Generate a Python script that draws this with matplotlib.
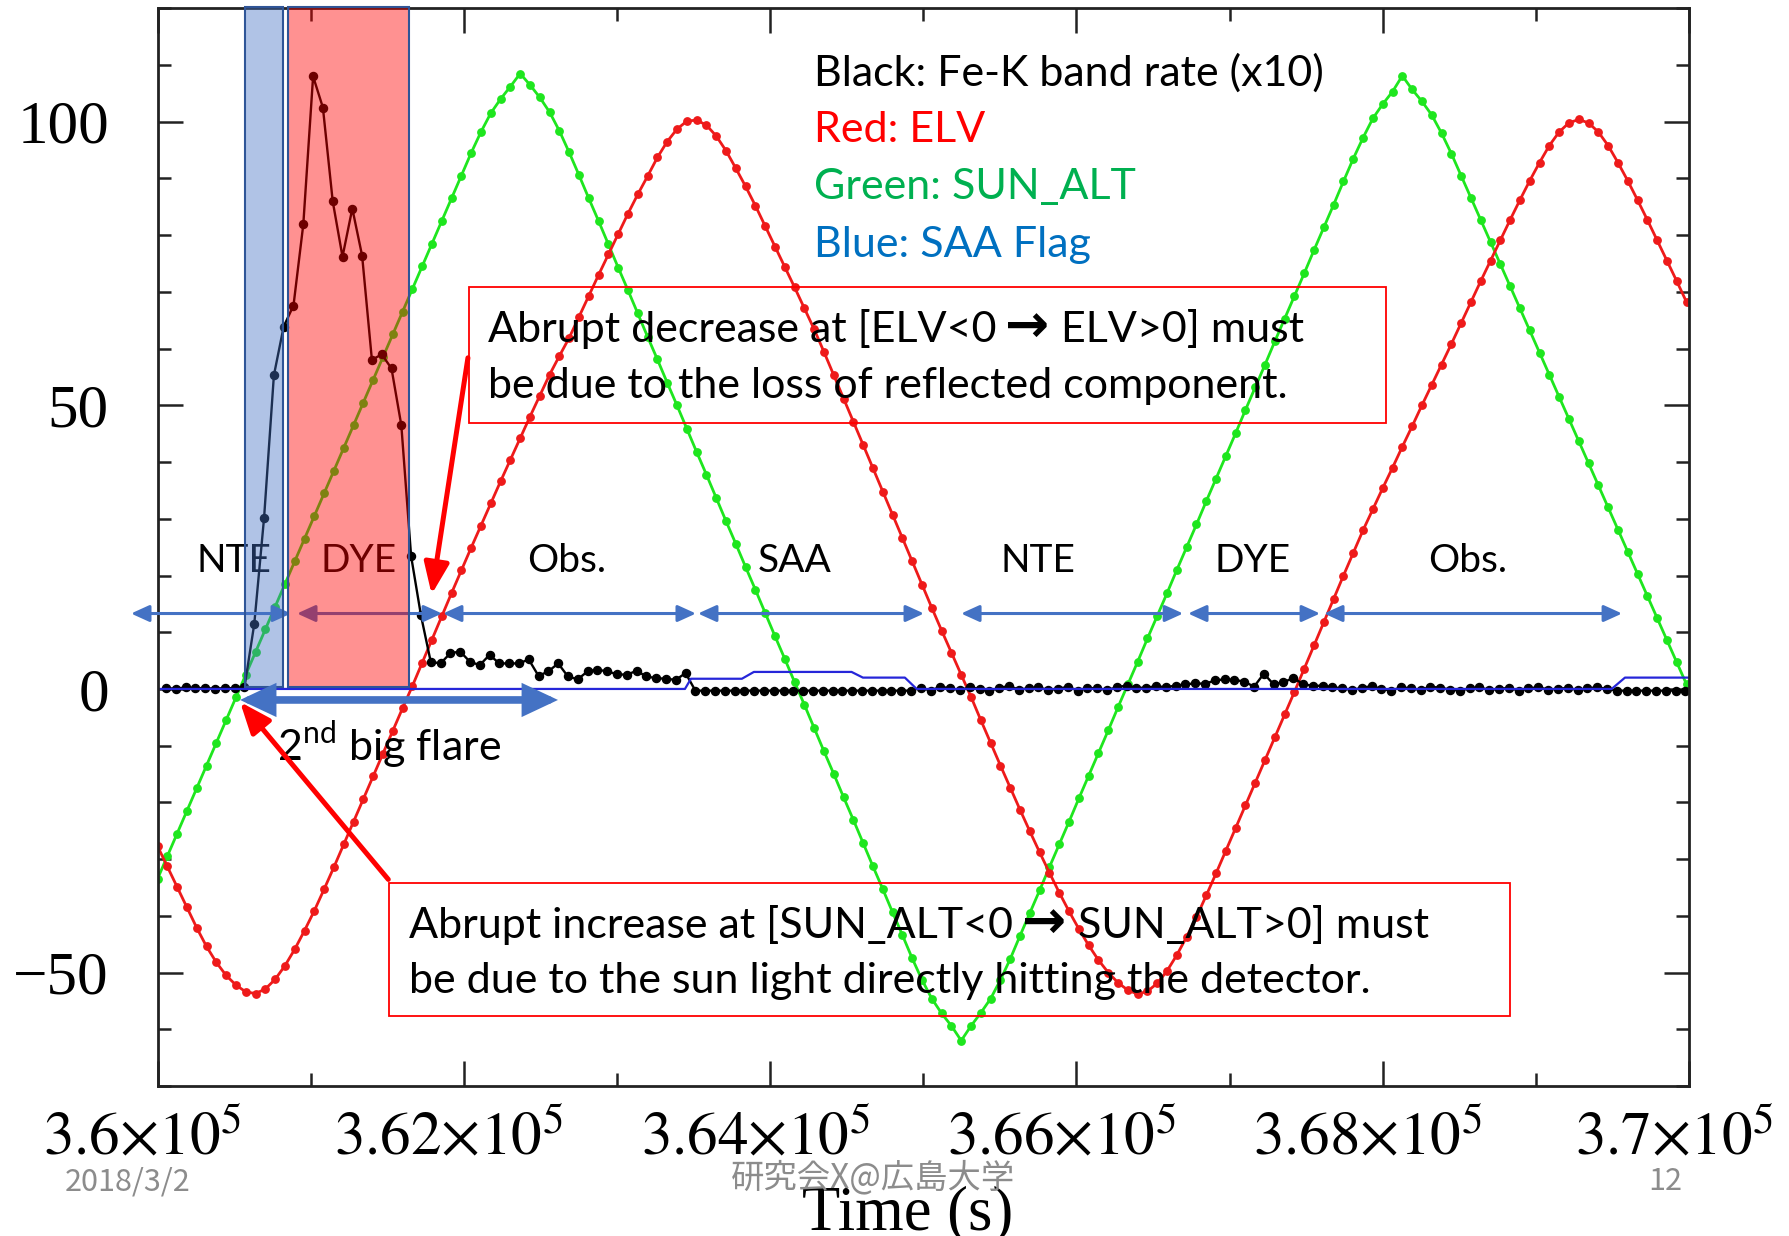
import numpy as np
import matplotlib
matplotlib.use("Agg")
import matplotlib.pyplot as plt
import matplotlib.transforms as mtransforms
from matplotlib.patches import Rectangle
from matplotlib.ticker import MultipleLocator, FixedLocator

# ---- data (time in s, y in plotted units) ----
# SUN_ALT and ELV are sampled every 64 s starting at 3.6e5 s
orbit_t0 = 360000
orbit_dt = 64

sun_alt = [
    -33.5, -29.5, -25.5, -21.5, -17.5, -13.5, -9.5, -5.5, -1.5, 2.5,
    6.5, 10.5, 14.5, 18.5, 22.5, 26.5, 30.5, 34.5, 38.5, 42.5,
    46.5, 50.5, 54.5, 58.5, 62.5, 66.5, 70.5, 74.5, 78.5, 82.5,
    86.5, 90.5, 94.5, 98.2, 101.5, 104.0, 106.2, 108.5, 106.5, 104.3,
    101.7, 98.4, 94.6, 90.6, 86.5, 82.5, 78.4, 74.3, 70.3, 66.2,
    62.1, 58.1, 54.0, 50.0, 45.9, 41.8, 37.8, 33.7, 29.6, 25.6,
    21.5, 17.5, 13.4, 9.3, 5.3, 1.2, -2.8, -6.9, -11.0, -15.0,
    -19.1, -23.1, -27.2, -31.3, -35.3, -39.4, -43.4, -47.5, -51.3, -54.6,
    -57.2, -59.4, -62.0, -59.4, -57.1, -54.6, -51.3, -47.6, -43.5, -39.5,
    -35.5, -31.4, -27.4, -23.4, -19.3, -15.3, -11.3, -7.3, -3.2, 0.8,
    4.8, 8.9, 12.9, 16.9, 21.0, 25.0, 29.0, 33.1, 37.1, 41.1,
    45.1, 49.2, 53.2, 57.2, 61.3, 65.3, 69.3, 73.3, 77.4, 81.4,
    85.4, 89.5, 93.5, 97.2, 100.6, 103.1, 105.3, 108.1, 105.7, 103.6,
    101.2, 98.0, 94.4, 90.5, 86.6, 82.7, 78.8, 74.9, 71.0, 67.1,
    63.2, 59.3, 55.4, 51.5, 47.6, 43.7, 39.8, 35.9, 32.0, 28.1,
    24.2, 20.3, 16.4, 12.5, 8.6, 4.7, 0.8,
]

elv = [
    -27.7, -31.3, -34.9, -38.5, -42.1, -45.4, -48.2, -50.5, -52.2, -53.4,
    -53.7, -52.9, -51.2, -48.8, -45.9, -42.6, -39.1, -35.3, -31.4, -27.4,
    -23.4, -19.4, -15.4, -11.4, -7.4, -3.4, 0.5, 4.6, 8.7, 12.8,
    16.9, 20.9, 24.9, 28.8, 32.7, 36.6, 40.4, 44.2, 48.0, 51.7,
    55.4, 58.7, 61.9, 65.6, 69.3, 73.0, 76.6, 80.2, 83.8, 87.2,
    90.4, 93.7, 96.5, 98.7, 100.1, 100.3, 99.4, 97.5, 94.9, 91.8,
    88.6, 85.2, 81.6, 78.0, 74.4, 70.8, 67.1, 63.4, 59.4, 55.3,
    51.2, 47.1, 43.0, 38.9, 34.8, 30.7, 26.6, 22.5, 18.4, 14.3,
    10.3, 6.4, 2.5, -1.4, -5.5, -9.5, -13.5, -17.4, -21.3, -25.1,
    -28.8, -32.4, -35.9, -39.2, -42.3, -45.2, -47.8, -50.0, -51.8, -53.1,
    -53.8, -53.3, -51.9, -49.7, -46.9, -43.7, -40.2, -36.4, -32.5, -28.5,
    -24.5, -20.5, -16.5, -12.5, -8.5, -4.5, -0.5, 3.6, 7.7, 11.8,
    15.9, 20.0, 24.0, 28.0, 31.7, 35.4, 39.0, 42.7, 46.3, 50.0,
    53.6, 57.2, 60.8, 64.5, 68.2, 71.9, 75.5, 79.1, 82.7, 86.2,
    89.6, 92.8, 95.8, 98.2, 99.8, 100.4, 99.8, 98.2, 95.8, 92.8,
    89.6, 86.2, 82.7, 79.1, 75.5, 71.9, 68.2,
]

# Fe-K band rate (x10), 64 s bins starting at 360056 s
rate_t0 = 360056
rate_dt = 64
fek_rate = [
    0.2, 0.0, 0.3, 0.1, 0.2, 0.0, 0.2, 0.1, 0.3,
    11.5, 30.2, 55.3, 63.9, 67.6, 81.9, 108.0, 102.5, 86.0, 76.2,
    84.7, 76.4, 58.0, 59.0, 56.5, 46.5, 23.4, 13.0, 4.8,
    4.5, 6.3, 6.6, 4.8, 4.2, 6.0, 4.5, 4.5, 4.5, 5.2,
    2.3, 3.1, 4.5, 2.2, 1.7, 3.1, 3.4, 3.1, 2.6, 2.5,
    3.2, 2.2, 1.9, 1.8, 1.6, 2.8,
    -0.3, -0.3, -0.3, -0.3, -0.3, -0.3, -0.3, -0.3, -0.3, -0.3,
    -0.3, -0.3, -0.3, -0.3, -0.3, -0.3, -0.3, -0.3, -0.3, -0.3,
    -0.3, -0.3, -0.3,
    0.2, -0.3, 0.4, 0.1, -0.2, 0.3, 0.0, -0.4, 0.2, 0.5,
    -0.1, 0.1, 0.3, -0.2, 0.0, 0.4, -0.3, 0.2, 0.1, -0.2,
    0.3, 0.6, 0.2,
    0.2, 0.5, 0.3, 0.6, 0.8, 1.0, 0.9, 1.5, 1.7, 1.6,
    1.3, 0.4, 2.7, 0.8, 1.2, 1.9, 0.9, 0.5, 0.6,
    0.3, 0.1, -0.2, 0.2, 0.5, 0.0, -0.3, 0.3, 0.1, -0.2,
    0.4, 0.2, -0.1, -0.3, 0.1, 0.3, -0.2, 0.0, 0.2, -0.3,
    0.1, 0.3, -0.1, 0.0, 0.2, -0.2, 0.1, 0.3, 0.0,
    -0.3, -0.3, -0.3, -0.3, -0.3, -0.3, -0.3, -0.3,
]

# SAA flag (step line)
saa_t = [360000, 363444, 363483, 363816, 363894, 364532, 364606, 364880,
         364957, 369495, 369582, 370000]
saa_flag = [0, 0, 1.8, 1.8, 3.0, 3.0, 2.0, 2.0, 0, 0, 2.0, 2.0]

# observation phases marked with double arrows
phase_names = ['NTE', 'DYE', 'Obs.', 'SAA', 'NTE', 'DYE', 'Obs.']
phase_start = [359827, 360911, 361864, 363529, 365247, 366729, 367617]
phase_end = [360872, 361858, 363516, 365005, 366697, 367591, 369563]
phase_mid = [360500, 361316, 362674, 364163, 365750, 367147, 368557]

xtick_vals = [360000, 362000, 364000, 366000, 368000, 370000]
xtick_text = [r'$3.6{\times}10^{5}$', r'$3.62{\times}10^{5}$', r'$3.64{\times}10^{5}$',
              r'$3.66{\times}10^{5}$', r'$3.68{\times}10^{5}$', r'$3.7{\times}10^{5}$']
ytick_vals = [-50, 0, 50, 100]
ytick_text = ['\u221250', '0', '50', '100']

legend_lines = ['Black: Fe-K band rate (x10)', 'Red: ELV', 'Green: SUN_ALT', 'Blue: SAA Flag']
legend_colors = ['#000000', '#ff0000', '#00b050', '#0070c0']

# ---- style ----
plt.rcParams['font.family'] = ['Lato', 'DejaVu Sans']
plt.rcParams['mathtext.fontset'] = 'custom'
plt.rcParams['mathtext.rm'] = 'Lato'

W, H = 1789, 1236
TXT = 31
fig = plt.figure(figsize=(W / 100, H / 100), dpi=100)
fig.patch.set_facecolor('white')
ax = fig.add_axes([157.5 / W, 1 - 1086 / H, 1531.5 / W, 1077.7 / H])
renderer = fig.canvas.get_renderer()

t_orbit = orbit_t0 + orbit_dt * np.arange(len(sun_alt))
t_rate = rate_t0 + rate_dt * np.arange(len(fek_rate))

ax.plot(t_orbit, sun_alt, '-o', color='#1ee61e', lw=2.0, ms=5.3, zorder=2)
ax.plot(t_orbit, elv, '-o', color='#ee1a1a', lw=2.0, ms=5.3, zorder=2.1)
ax.plot(t_rate, fek_rate, '-o', color='black', lw=1.7, ms=5.8, zorder=2.2)
ax.plot(saa_t, saa_flag, '-', color='#2626d9', lw=1.6, zorder=2.3)

ax.set_xlim(360000, 370000)
ax.set_ylim(-70, 120)

ax.xaxis.set_major_locator(FixedLocator(xtick_vals))
ax.xaxis.set_minor_locator(MultipleLocator(1000))
ax.yaxis.set_major_locator(FixedLocator(ytick_vals))
ax.yaxis.set_minor_locator(MultipleLocator(10))
ax.set_xticklabels(xtick_text, fontsize=44, math_fontfamily='stix')
ax.set_yticklabels(ytick_text, fontsize=44, fontfamily='Liberation Serif')
ax.tick_params(which='both', direction='in', top=True, right=True, width=1.8, color='#222222')
ax.tick_params(which='major', length=18)
ax.tick_params(which='minor', length=9.7)
ax.tick_params(axis='y', pad=35)
ax.tick_params(axis='x', pad=16)
for sp in ax.spines.values():
    sp.set_linewidth(2)
    sp.set_color('#222222')

shift = mtransforms.ScaledTranslation(-15 / 100, 0, fig.dpi_scale_trans)
for lbl in ax.get_xticklabels():
    lbl.set_transform(lbl.get_transform() + shift)


def text_run(x, y, pieces, size, zorder=6):
    # pieces drawn one after another on the same baseline: (text, gap_before_px, extra kwargs)
    dx = 0.0
    for s, gap, extra in pieces:
        dx += gap
        off = mtransforms.ScaledTranslation(dx / fig.dpi, 0, fig.dpi_scale_trans)
        kw = dict(fontsize=size, ha='left', va='baseline', zorder=zorder)
        kw.update(extra)
        tx = ax.text(x, y, s, transform=ax.transData + off, **kw)
        dx += tx.get_window_extent(renderer).width


ARROW = dict(family='DejaVu Sans', fontweight='bold', fontsize=38)

# shaded time windows (NTE / DYE of the flare)
ax.add_patch(Rectangle((360571, 0.35), 248, 119.95, facecolor=(0.267, 0.447, 0.769, 0.42),
                       edgecolor='#2f5597', lw=1.5, zorder=4, clip_on=False))
ax.add_patch(Rectangle((360850, 0.35), 792, 119.95, facecolor=(1.0, 0.0, 0.0, 0.43),
                       edgecolor='#2f5597', lw=1.5, zorder=4, clip_on=False))

# phase arrows and names
for name, t0, t1, tm in zip(phase_names, phase_start, phase_end, phase_mid):
    ax.annotate('', xy=(t1, 13.3), xytext=(t0, 13.3), zorder=3, annotation_clip=False,
                arrowprops=dict(arrowstyle='<|-|>,head_length=0.55,head_width=0.25',
                                color='#4472c4', lw=2.2, mutation_scale=20,
                                shrinkA=0, shrinkB=0))
    ax.text(tm, 22.6, name, ha='center', va='center', fontsize=28, color='black', zorder=3)

# flare duration arrow
ax.annotate('', xy=(362615, -1.94), xytext=(360539, -1.94), zorder=5,
            arrowprops=dict(arrowstyle='<|-|>,head_length=0.85,head_width=0.4',
                            color='#4472c4', lw=5.5, mutation_scale=20,
                            shrinkA=0, shrinkB=0, joinstyle='miter'))
ax.text(360780, -12.7, r'2$^{\mathrm{nd}}$ big flare', ha='left', va='baseline',
        fontsize=TXT, zorder=5)

# legend text
legend_base = [106.35, 96.35, 86.37, 76.24]
for txt, col, yb in zip(legend_lines, legend_colors, legend_base):
    ax.text(364289, yb, txt, color=col, fontsize=TXT, ha='left', va='baseline', zorder=6)

# annotation boxes with red arrows
ax.add_patch(Rectangle((362032, 46.97), 5988, 23.98, fill=False, edgecolor='#ff0000',
                       lw=1.3, zorder=6))
text_run(362155, 61.2, [('Abrupt decrease at [ELV<0', 0, {}),
                        ('\u2192', 9, ARROW),
                        ('ELV>0] must', 12, {})], TXT)
ax.text(362155, 51.3, 'be due to the loss of reflected component.', fontsize=TXT,
        ha='left', va='baseline', zorder=6)
ax.annotate('', xy=(361790, 16.68), xytext=(362027, 58.38), zorder=7,
            arrowprops=dict(arrowstyle='-|>,head_length=0.95,head_width=0.38',
                            color='#ff0000', lw=3.6, mutation_scale=20,
                            shrinkA=0, shrinkB=0))

ax.add_patch(Rectangle((361510, -57.67), 7318, 23.51, fill=False, edgecolor='#ff0000',
                       lw=1.3, zorder=6))
text_run(361643, -43.97, [('Abrupt increase at [SUN_ALT<0', 0, {}),
                          ('\u2192', 9, ARROW),
                          ('SUN_ALT>0] must', 12, {})], TXT)
ax.text(361643, -53.56, 'be due to the sun light directly hitting the detector.', fontsize=TXT,
        ha='left', va='baseline', zorder=6)
ax.annotate('', xy=(360539, -2.29), xytext=(361507, -33.58), zorder=7,
            arrowprops=dict(arrowstyle='-|>,head_length=0.95,head_width=0.38',
                            color='#ff0000', lw=3.6, mutation_scale=20,
                            shrinkA=0, shrinkB=0))

# axis title and slide footer
fig.text(908 / W, 1 - 1229 / H, 'Time (s)', ha='center', va='baseline',
         fontfamily='Liberation Serif', fontsize=45)
foot = dict(color='#8c8c8c', va='baseline', fontfamily=['Noto Sans CJK JP', 'DejaVu Sans'])
fig.text(65 / W, 1 - 1190 / H, '2018/3/2', ha='left', fontsize=22, **foot)
fig.text(873 / W, 1 - 1187 / H, '研究会X@広島大学', ha='center', fontsize=24, **foot)
fig.text(1665 / W, 1 - 1190 / H, '12', ha='center', fontsize=22, **foot)

fig.savefig('out.png', dpi=100)
